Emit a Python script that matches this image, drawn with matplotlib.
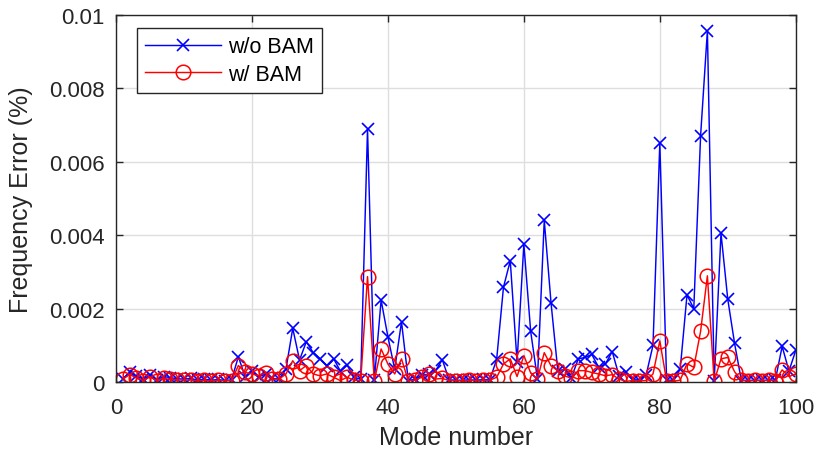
import numpy as np
import matplotlib
matplotlib.use("Agg")
import matplotlib.pyplot as plt

plt.rcParams['font.family'] = ['Liberation Sans', 'DejaVu Sans']

mode_number = np.arange(1, 101)

# Frequency error (%) without BAM, modes 1..100
err_without_bam = [
    0.00008, 0.00026, 0.00016, 0.00008, 0.00018, 0.00006, 0.00015, 0.00012, 0.00009, 0.00008,
    0.00010, 0.00005, 0.00008, 0.00005, 0.00007, 0.00004, 0.00006, 0.00069, 0.00014, 0.00030,
    0.00014, 0.00022, 0.00010, 0.00008, 0.00035, 0.00146, 0.00060, 0.00110, 0.00080, 0.00064,
    0.00045, 0.00064, 0.00030, 0.00046, 0.00013, 0.00008, 0.00688, 0.00005, 0.00223, 0.00123,
    0.00035, 0.00164, 0.00004, 0.00008, 0.00018, 0.00022, 0.00030, 0.00061, 0.00006, 0.00005,
    0.00005, 0.00006, 0.00005, 0.00007, 0.00006, 0.00062, 0.00258, 0.00330, 0.00055, 0.00375,
    0.00138, 0.00008, 0.00440, 0.00215, 0.00030, 0.00035, 0.00012, 0.00063, 0.00067, 0.00075,
    0.00040, 0.00049, 0.00083, 0.00017, 0.00026, 0.00006, 0.00006, 0.00020, 0.00100, 0.00650,
    0.00005, 0.00005, 0.00035, 0.00237, 0.00200, 0.00670, 0.00956, 0.00002, 0.00405, 0.00225,
    0.00105, 0.00004, 0.00005, 0.00004, 0.00005, 0.00004, 0.00006, 0.00097, 0.00030, 0.00086,
]

# Frequency error (%) with BAM, modes 1..100
err_with_bam = [
    0.00008, 0.00020, 0.00012, 0.00004, 0.00014, 0.00004, 0.00010, 0.00007, 0.00006, 0.00005,
    0.00006, 0.00003, 0.00005, 0.00003, 0.00005, 0.00003, 0.00004, 0.00045, 0.00026, 0.00022,
    0.00017, 0.00025, 0.00008, 0.00008, 0.00022, 0.00058, 0.00031, 0.00045, 0.00022, 0.00017,
    0.00022, 0.00013, 0.00004, 0.00013, 0.00005, 0.00004, 0.00287, 0.00003, 0.00090, 0.00049,
    0.00022, 0.00063, 0.00003, 0.00006, 0.00013, 0.00022, 0.00008, 0.00010, 0.00004, 0.00004,
    0.00003, 0.00005, 0.00004, 0.00005, 0.00005, 0.00013, 0.00049, 0.00063, 0.00015, 0.00072,
    0.00025, 0.00008, 0.00080, 0.00044, 0.00031, 0.00017, 0.00010, 0.00031, 0.00031, 0.00026,
    0.00022, 0.00017, 0.00020, 0.00008, 0.00002, 0.00004, 0.00003, 0.00004, 0.00022, 0.00112,
    0.00003, 0.00002, 0.00005, 0.00050, 0.00040, 0.00138, 0.00289, 0.00002, 0.00063, 0.00067,
    0.00028, 0.00005, 0.00003, 0.00005, 0.00004, 0.00005, 0.00004, 0.00033, 0.00015, 0.00022,
]

x_ticks = [0, 20, 40, 60, 80, 100]
y_ticks = [0, 0.002, 0.004, 0.006, 0.008, 0.01]
y_tick_labels = ["0", "0.002", "0.004", "0.006", "0.008", "0.01"]

fig = plt.figure(figsize=(8.17, 4.56), dpi=100)
ax = fig.add_axes([0.142, 0.160, 0.832, 0.806])

ax.plot(mode_number, err_without_bam, '-x', color=(0, 0, 1), lw=1.05,
        markersize=8.5, markeredgewidth=1.2, label='w/o BAM')
ax.plot(mode_number, err_with_bam, '-o', color=(1, 0, 0), lw=1.05,
        markersize=10.5, markeredgewidth=1.1, markerfacecolor='none', label='w/ BAM')

ax.set_xlim(0, 100)
ax.set_ylim(0, 0.01)
ax.set_xticks(x_ticks)
ax.set_yticks(y_ticks)
ax.set_yticklabels(y_tick_labels)

dark = (0.15, 0.15, 0.15)
ax.grid(True, color=(0.87, 0.87, 0.87), lw=1.0)
ax.set_axisbelow(True)
for s in ax.spines.values():
    s.set_color(dark)
    s.set_linewidth(1.0)
ax.tick_params(direction='in', top=True, right=True, length=5, width=1.0,
               colors=dark, labelsize=16)
ax.tick_params(axis='x', pad=11)
ax.tick_params(axis='y', pad=8)

ax.set_xlabel('Mode number', fontsize=18, color=dark)
ax.set_ylabel('Frequency Error (%)', fontsize=18, color=dark)
ax.xaxis.set_label_coords(0.5, -0.118)
ax.yaxis.set_label_coords(-0.122, 0.5)

leg = ax.legend(loc='upper left', bbox_to_anchor=(0.031, 0.963), borderaxespad=0,
                fontsize=15.5, fancybox=False, framealpha=1, edgecolor=dark,
                handlelength=3.5, borderpad=0.38, labelspacing=0.3,
                handletextpad=0.35)
leg.get_frame().set_linewidth(1.0)

fig.savefig('out.png', dpi=100, facecolor='white')
